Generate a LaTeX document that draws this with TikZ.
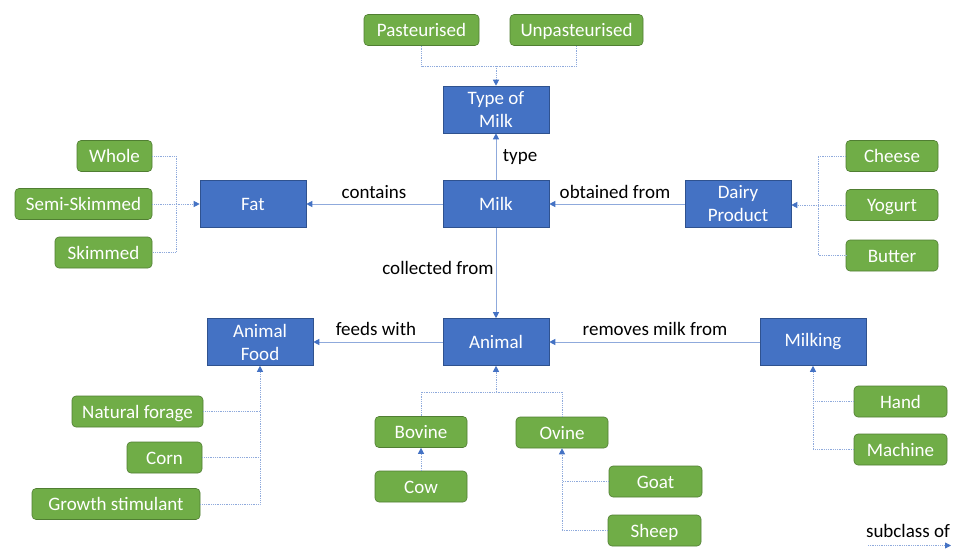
\documentclass[tikz,border=0pt]{standalone}
\usepackage{fontspec}
\setmainfont{Carlito}
\usetikzlibrary{arrows.meta}
\definecolor{conceptblue}{HTML}{4472C4}
\definecolor{conceptedge}{HTML}{2F528F}
\definecolor{itemgreen}{HTML}{70AD47}
\definecolor{itemedge}{HTML}{507E32}
\definecolor{linkblue}{HTML}{8FAADC}
\begin{document}
\begin{tikzpicture}[x=1pt,y=-1pt,
  font=\fontsize{19}{23}\selectfont,
  concept/.style={draw=conceptedge, line width=0.6pt, fill=conceptblue, text=white,
    minimum width=106pt, minimum height=47pt, inner sep=0pt, align=center},
  item/.style={draw=itemedge, line width=0.6pt, fill=itemgreen, text=white,
    rounded corners=4pt, minimum height=31pt, inner sep=0pt,
    text height=15pt, text depth=2pt},
  tip/.style={-{Triangle[length=6pt,width=6pt,color=conceptblue]}},
  rel/.style={draw=linkblue, line width=1pt, tip},
  subl/.style={draw=linkblue, line width=0.8pt, densely dotted},
  suba/.style={subl, tip},
  lbl/.style={text=black, inner sep=1pt}]

\fill[white] (0,0) rectangle (957,548);

% main concepts
\node[concept] (typemilk) at (496,109.5) {Type of\\Milk};
\node[concept] (milk)     at (496,204)   {Milk};
\node[concept] (fat)      at (253,204)   {Fat};
\node[concept] (dairy)    at (738,204)   {Dairy\\Product};
\node[concept] (animal)   at (496,342)   {Animal};
\node[concept] (afood)    at (260,342)   {Animal\\Food};
\node[concept] (milking)  at (813,342)   {Milking};

% subclasses
\node[item, minimum width=115pt] (past)    at (421.5,30) {Pasteurised};
\node[item, minimum width=133pt] (unpast)  at (576.5,30) {Unpasteurised};
\node[item, minimum width=75pt]  (whole)   at (114.5,156) {Whole};
\node[item, minimum width=137pt] (semi)    at (83.5,204)  {Semi-Skimmed};
\node[item, minimum width=97pt]  (skim)    at (103.5,252.5) {Skimmed};
\node[item, minimum width=92pt]  (cheese)  at (892,156)  {Cheese};
\node[item, minimum width=92pt]  (yogurt)  at (892,205)  {Yogurt};
\node[item, minimum width=92pt]  (butter)  at (892,255.5) {Butter};
\node[item, minimum width=131pt] (natural) at (137.5,411.5) {Natural forage};
\node[item, minimum width=75pt]  (corn)    at (164.5,457.5) {Corn};
\node[item, minimum width=168pt] (growth)  at (116,504)  {Growth stimulant};
\node[item, minimum width=92pt]  (bovine)  at (421,432)  {Bovine};
\node[item, minimum width=92pt]  (cow)     at (421,486.5) {Cow};
\node[item, minimum width=92pt]  (ovine)   at (562,432.5) {Ovine};
\node[item, minimum width=93pt]  (goat)    at (655.5,481.5) {Goat};
\node[item, minimum width=93pt]  (sheep)   at (654.5,530.5) {Sheep};
\node[item, minimum width=93pt]  (hand)    at (900.5,401.5) {Hand};
\node[item, minimum width=93pt]  (machine) at (900.5,449.5) {Machine};

% relations
\draw[rel] (milk) -- (typemilk);
\draw[rel] (milk) -- (fat);
\draw[rel] (dairy) -- (milk);
\draw[rel] (milk) -- (animal);
\draw[rel] (animal) -- (afood);
\draw[rel] (milking) -- (animal);

\node[lbl] (ltype)     at (520,157)   {type};
\node[lbl] (lcontains) at (374,192)   {contains};
\node[lbl] (lobtained) at (615,192)   {obtained from};
\node[lbl] (lcollect)  at (438,268)   {collected from};
\node[lbl] (lfeeds)    at (376,329)   {feeds with};
\node[lbl] (lremoves)  at (655,329)   {removes milk from};

% subclass links
\coordinate (tj) at (496,66);
\draw[subl] (past.south) |- (tj) -| (unpast.south);
\draw[suba] (tj) -- (typemilk.north);

\coordinate (fj) at (176,204);
\draw[subl] (whole.east) -| (fj) |- (skim.east);
\draw[suba] (semi.east) -- (fat.west);

\coordinate (dj) at (818,205);
\draw[subl] (cheese.west) -| (dj) |- (butter.west);
\draw[suba] (yogurt.west) -- (dairy.east |- yogurt.west);

\draw[suba] (growth.east) -| (afood.south);
\draw[subl] (natural.east) -- (natural.east -| afood.south);
\draw[subl] (corn.east) -- (corn.east -| afood.south);

\coordinate (anj) at (496,392);
\draw[subl] (bovine.north) |- (anj) -| (ovine.north);
\draw[suba] (anj) -- (animal.south);
\draw[suba] (cow.north) -- (bovine.south);

\draw[suba] (sheep.west) -| (ovine.south);
\draw[subl] (goat.west) -- (goat.west -| ovine.south);

\draw[suba] (machine.west) -| (milking.south);
\draw[subl] (hand.west) -- (hand.west -| milking.south);

% legend
\node[lbl] (legend) at (908,531) {subclass of};
\coordinate (lgA) at (868,545.5);
\coordinate (lgB) at (951,545.5);
\draw[suba] (lgA) -- (lgB);
\end{tikzpicture}
\end{document}
